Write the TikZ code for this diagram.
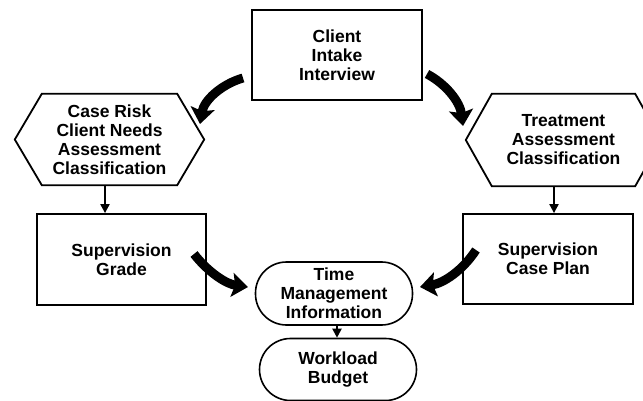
\documentclass[tikz,border=0pt]{standalone}
\usepackage{fontspec}
\setmainfont{Liberation Sans}
\usetikzlibrary{arrows.meta,calc}
\begin{document}
\begin{tikzpicture}[x=1pt,y=-1pt,
  lbl/.style={font=\bfseries\fontsize{17.5}{19}\selectfont, align=center, inner sep=0pt},
  boxnode/.style={lbl, draw, line width=1.8pt},
  pill/.style={lbl, draw, line width=1.6pt, rounded corners=31pt},
  hexlabel/.style={lbl},
  hexline/.style={line width=1.8pt, line join=miter},
  bigarrow/.style={line width=9pt, -{Stealth[width=24pt,length=16pt,inset=3pt]}},
  smallarrow/.style={line width=2pt, -{Triangle[width=9pt,length=9pt]}}
]
\useasboundingbox (0,0) rectangle (643,401);

% rectangular steps
\node[boxnode, minimum width=170pt, minimum height=90pt] (intake) at (337,55)
  {Client\\Intake\\Interview};
\node[boxnode, minimum width=169pt, minimum height=91pt] (grade) at (121.5,259.5)
  {Supervision\\Grade};
\node[boxnode, minimum width=170pt, minimum height=90pt] (plan) at (548,259)
  {Supervision\\Case Plan};

% hexagonal classification steps
\node[hexlabel, minimum width=135pt, minimum height=91pt] (risk) at (109.5,139.5)
  {Case Risk\\Client Needs\\Assessment\\Classification};
\draw[hexline] (risk.north west) -- (risk.north east) -- ($(risk.east)+(27,0)$)
  -- (risk.south east) -- (risk.south west) -- ($(risk.west)+(-27,0)$) -- cycle;
\node[hexlabel, minimum width=143pt, minimum height=92pt] (treat) at (563.5,140)
  {Treatment\\Assessment\\Classification};
\draw[hexline] (treat.north west) -- (treat.north east) -- ($(treat.east)+(26,0)$)
  -- (treat.south east) -- (treat.south west) -- ($(treat.west)+(-26,0)$) -- cycle;

% rounded outcome nodes
\node[pill, minimum width=157pt, minimum height=63pt] (time) at (334,293.5)
  {Time\\Management\\Information};
\node[pill, minimum width=157pt, minimum height=62pt] (budget) at (338,369.5)
  {Workload\\Budget};

% free ends of the curved arrows
\coordinate (a1) at (243,78);  \coordinate (a1t) at (200,124);
\coordinate (a2) at (427,74);  \coordinate (a2t) at (463,126);
\coordinate (a3) at (194,254); \coordinate (a3t) at (248,287);
\coordinate (a4) at (476,250); \coordinate (a4t) at (420,287);

\draw[bigarrow] (a1) .. controls (222,84) and (204,100) .. (a1t);
\draw[bigarrow] (a2) .. controls (446,84) and (460,102) .. (a2t);
\draw[bigarrow] (a3) .. controls (208,272) and (226,284) .. (a3t);
\draw[bigarrow] (a4) .. controls (463,270) and (444,283) .. (a4t);

% short vertical connectors
\draw[smallarrow] (risk.south -| 105,0) -- (grade.north -| 105,0);
\draw[smallarrow] (treat.south -| 554,0) -- (plan.north -| 554,0);
\draw[smallarrow] (time.south -| 337,0) -- (budget.north -| 337,0);
\end{tikzpicture}
\end{document}
